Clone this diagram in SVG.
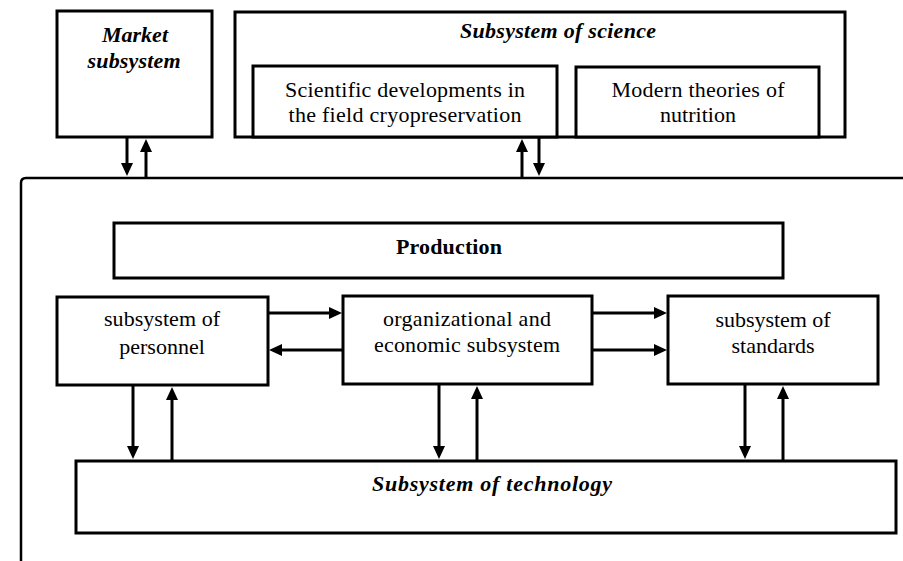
<svg xmlns="http://www.w3.org/2000/svg" width="903" height="561" viewBox="0 0 903 561" font-family="'Liberation Serif', 'Times New Roman', 'DejaVu Serif', serif">
<style>
.box{fill:#fff;stroke:#000;stroke-width:3}
text{font-family:'Liberation Serif','Times New Roman','DejaVu Serif',serif;font-size:22px;fill:#000;text-anchor:middle}
.bi{font-weight:bold;font-style:italic}
.b{font-weight:bold}
.ar{stroke:#000;stroke-width:3;fill:none;marker-end:url(#ah)}
.frame{fill:none;stroke:#000;stroke-width:2.5}
</style>
<defs>
<marker id="ah" markerUnits="userSpaceOnUse" markerWidth="13" markerHeight="12" refX="1" refY="6" orient="auto">
<path d="M0,0 L13,6 L0,12 Z" fill="#000"/>
</marker>
</defs>
<rect width="903" height="561" fill="#fff"/>
<path class="frame" d="M903,178 H26 Q21,178 21,183 V561"/>
<g id="market">
<rect class="box" x="57" y="11" width="155" height="126"/>
<text class="bi" x="135" y="42" textLength="66">Market</text>
<text class="bi" x="134" y="68" textLength="93">subsystem</text>
</g>
<g id="science">
<rect class="box" x="235" y="12" width="610" height="125"/>
<text class="bi" x="558" y="38" textLength="196">Subsystem of science</text>
</g>
<g id="cryo">
<rect class="box" x="253" y="66" width="304" height="71"/>
<text x="405" y="97" textLength="240">Scientific developments in</text>
<text x="405" y="122" textLength="233">the field cryopreservation</text>
</g>
<g id="nutrition">
<rect class="box" x="576" y="67" width="243" height="70"/>
<text x="698" y="97" textLength="173">Modern theories of</text>
<text x="698" y="122">nutrition</text>
</g>
<g id="production">
<rect class="box" x="114" y="223" width="669" height="55"/>
<text class="b" x="449" y="254" textLength="106">Production</text>
</g>
<g id="personnel">
<rect class="box" x="57" y="297" width="211" height="88"/>
<text x="162" y="326" textLength="116">subsystem of</text>
<text x="162" y="354">personnel</text>
</g>
<g id="org">
<rect class="box" x="343" y="296" width="249" height="88"/>
<text x="467" y="326" textLength="168">organizational and</text>
<text x="467" y="352" textLength="186">economic subsystem</text>
</g>
<g id="standards">
<rect class="box" x="668" y="296" width="210" height="88"/>
<text x="773" y="327" textLength="115">subsystem of</text>
<text x="773" y="353">standards</text>
</g>
<g id="technology">
<rect class="box" x="76" y="461" width="820" height="72"/>
<text class="bi" x="492" y="491" textLength="240">Subsystem of technology</text>
</g>
<g id="connectors">
<line class="ar" x1="127" y1="138" x2="127" y2="164"/>
<line class="ar" x1="146" y1="177" x2="146" y2="151"/>
<line class="ar" x1="522" y1="177" x2="522" y2="151"/>
<line class="ar" x1="539" y1="138" x2="539" y2="164"/>
<line class="ar" x1="268" y1="313" x2="330" y2="313"/>
<line class="ar" x1="343" y1="350" x2="281" y2="350"/>
<line class="ar" x1="592" y1="313" x2="655" y2="313"/>
<line class="ar" x1="592" y1="350" x2="655" y2="350"/>
<line class="ar" x1="133" y1="386" x2="133" y2="447"/>
<line class="ar" x1="172" y1="460" x2="172" y2="399"/>
<line class="ar" x1="439" y1="385" x2="439" y2="447"/>
<line class="ar" x1="477" y1="460" x2="477" y2="398"/>
<line class="ar" x1="745" y1="385" x2="745" y2="447"/>
<line class="ar" x1="783" y1="460" x2="783" y2="398"/>
</g>
</svg>
